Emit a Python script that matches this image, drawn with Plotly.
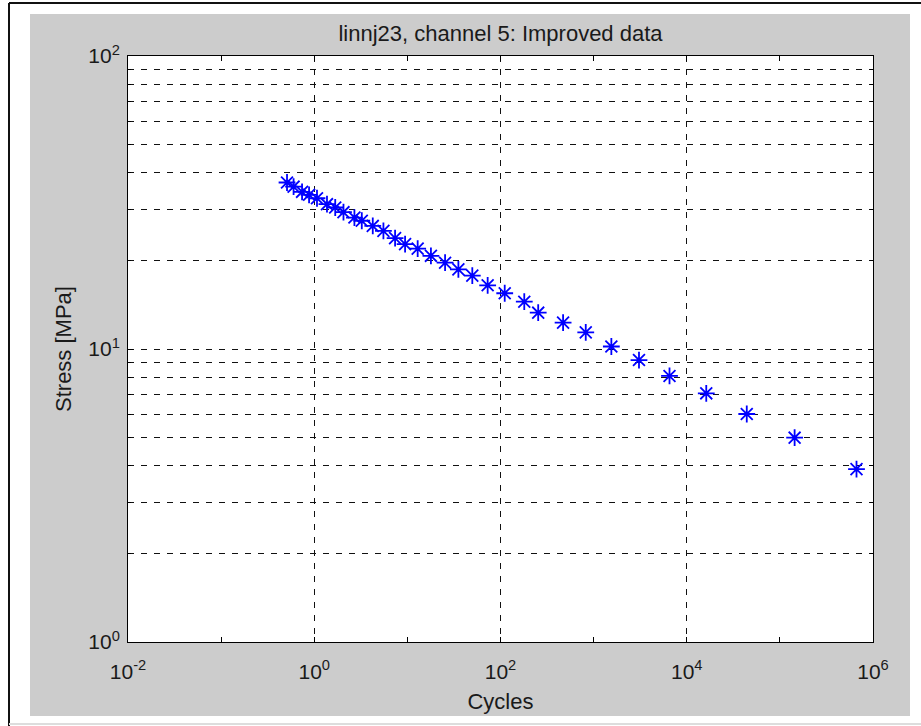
import plotly.graph_objects as go

# S-N data: cycles to failure vs. stress amplitude
cycles = [0.51, 0.60, 0.74, 0.88, 1.07, 1.37, 1.68, 2.06, 2.70, 3.24, 4.25, 5.53,
          7.38, 9.45, 12.9, 17.9, 25.4, 35.3, 49.8, 72.8, 111, 180, 254, 470,
          823, 1550, 3070, 6530, 16200, 44100, 144000, 665000]
stress = [37.0, 35.8, 34.4, 33.6, 32.7, 31.2, 30.4, 29.3, 28.1, 27.4, 26.3, 25.3,
          23.9, 22.8, 22.0, 20.8, 19.7, 18.7, 17.8, 16.5, 15.5, 14.5, 13.3, 12.3,
          11.4, 10.2, 9.17, 8.09, 7.06, 6.0, 4.98, 3.89]

x_major = [1e-2, 1e0, 1e2, 1e4, 1e6]
x_major_text = ["10<sup>-2</sup>", "10<sup>0</sup>", "10<sup>2</sup>", "10<sup>4</sup>", "10<sup>6</sup>"]
x_minor = [1e-1, 1e1, 1e3, 1e5]
y_major = [1, 10, 100]
y_major_text = ["10<sup>0</sup>", "10<sup>1</sup>", "10<sup>2</sup>"]
y_minor = [2, 3, 4, 5, 6, 7, 8, 9, 20, 30, 40, 50, 60, 70, 80, 90]

W, H = 921, 726
L, R, T, B = 128, 873, 56, 642
FONT = "Liberation Sans, Arial, sans-serif"
TEXT = "#1a1a1a"


def px(x):
    return (x - L) / (R - L)


def py(y):
    return (B - y) / (B - T)


fig = go.Figure()
fig.add_trace(go.Scatter(
    x=cycles, y=stress, mode="markers",
    marker=dict(symbol="asterisk-open", size=14, color="#0000ff",
                line=dict(color="#0000ff", width=1.8)),
    showlegend=False,
))

grid = dict(gridcolor="#111111", gridwidth=1, griddash="6px,7px")

fig.update_xaxes(
    type="log", range=[-2, 6],
    tickmode="array", tickvals=x_major, ticktext=x_major_text,
    ticks="inside", ticklen=5, tickcolor="black",
    showline=True, linecolor="black", linewidth=1, mirror="allticks",
    showgrid=True, **grid,
    minor=dict(tickmode="array", tickvals=x_minor, ticks="inside", ticklen=5,
               tickcolor="black", showgrid=False),
    tickfont=dict(family=FONT, size=21, color=TEXT),
    ticklabelstandoff=11,
    title=dict(text="Cycles", font=dict(family=FONT, size=22, color=TEXT), standoff=11),
    zeroline=False,
)
fig.update_yaxes(
    type="log", range=[0, 2],
    tickmode="array", tickvals=y_major, ticktext=y_major_text,
    ticks="inside", ticklen=5, tickcolor="black",
    showline=True, linecolor="black", linewidth=1, mirror="allticks",
    showgrid=True, **grid,
    minor=dict(tickmode="array", tickvals=y_minor, ticks="inside", ticklen=3,
               tickcolor="black", showgrid=True, **grid),
    tickfont=dict(family=FONT, size=21, color=TEXT),
    ticklabelstandoff=3,
    title=dict(text="Stress [MPa]", font=dict(family=FONT, size=22, color=TEXT), standoff=10),
    zeroline=False,
)

shapes = [
    # grey figure panel
    dict(type="rect", xref="paper", yref="paper", layer="below",
         x0=px(30), x1=px(910), y0=py(716), y1=py(14),
         fillcolor="#cccccc", line=dict(width=0)),
    # white axes area
    dict(type="rect", xref="paper", yref="paper", layer="below",
         x0=0, x1=1, y0=0, y1=1, fillcolor="white", line=dict(width=0)),
    # window frame lines
    dict(type="line", xref="paper", yref="paper", x0=px(9), x1=px(9),
         y0=py(3), y1=py(726), line=dict(color="#111", width=2)),
    dict(type="line", xref="paper", yref="paper", x0=px(9), x1=px(921),
         y0=py(3), y1=py(3), line=dict(color="#111", width=2)),
    dict(type="line", xref="paper", yref="paper", x0=px(9), x1=px(921),
         y0=py(724), y1=py(724), line=dict(color="#dddddd", width=2)),
]

fig.update_layout(
    width=W, height=H,
    margin=dict(l=L, r=W - R, t=T, b=H - B),
    paper_bgcolor="white", plot_bgcolor="rgba(0,0,0,0)",
    shapes=shapes,
    title=dict(text="linnj23, channel 5: Improved data", x=(L + R) / 2 / W, xanchor="center",
               y=1 - 33 / H, yanchor="middle", yref="container",
               font=dict(family=FONT, size=22, color=TEXT)),
    font=dict(family=FONT),
)

fig.write_html("out.html")
